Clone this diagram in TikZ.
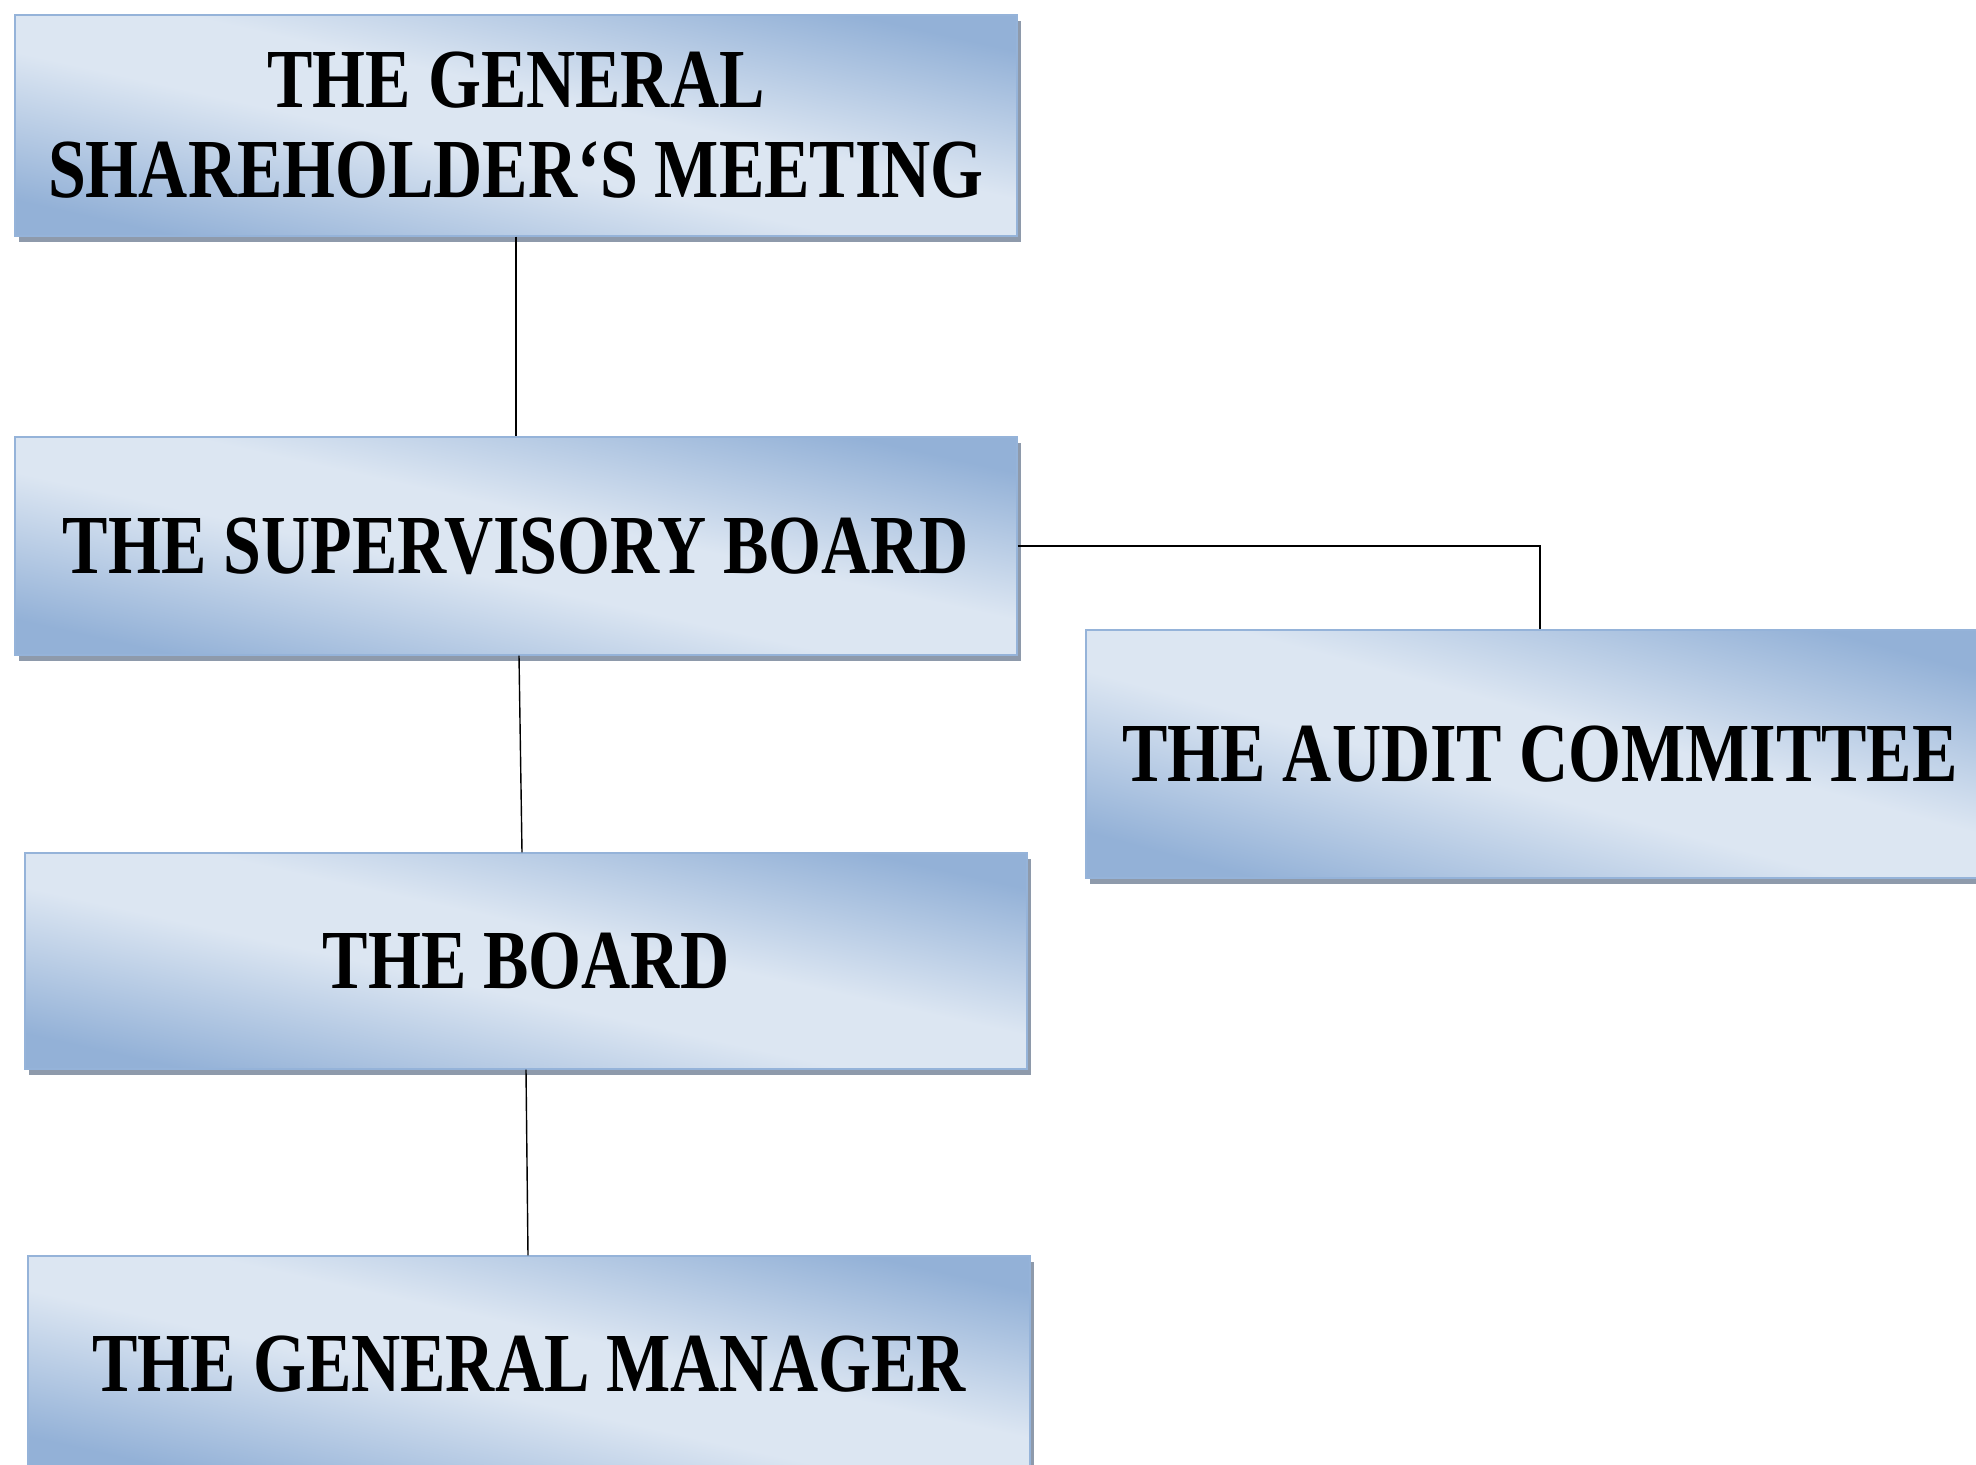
\documentclass[tikz,border=0pt]{standalone}
\usepackage{fontspec}
\newfontfamily\boxfont[FakeStretch=0.81]{Liberation Serif}
\usetikzlibrary{shadows,calc}
\definecolor{boxlt}{HTML}{DCE6F2}
\definecolor{boxdk}{HTML}{93B1D7}
\definecolor{boxedge}{HTML}{95B3D9}
\definecolor{boxshadow}{HTML}{8E9AAB}
\pgfdeclarehorizontalshading{diagshade}{100bp}{color(0bp)=(boxdk); color(25bp)=(boxdk); color(45bp)=(boxlt); color(55bp)=(boxlt); color(75bp)=(boxdk); color(100bp)=(boxdk)}
\tikzset{
  orgbox/.style={draw=boxedge, line width=0.6pt, shading=diagshade, shading angle=77.5,
    inner sep=0pt, align=center, text=black,
    font=\boxfont\bfseries\fontsize{42}{45}\selectfont,
    general shadow={fill=boxshadow, shadow xshift=2pt, shadow yshift=-3pt}},
  link/.style={draw=black, line width=0.7pt}
}
\begin{document}
\begin{tikzpicture}[x=0.5pt,y=-0.5pt]
\useasboundingbox (0,0) rectangle (1976,1465);
\node[orgbox, minimum width=501pt, minimum height=110.5pt] (gsm) at (516,125.5) {THE GENERAL\\SHAREHOLDER‘S MEETING};
\node[orgbox, minimum width=501pt, minimum height=109pt] (sb) at (516,546) {THE SUPERVISORY BOARD};
\node[orgbox, shading angle=74.7, minimum width=454pt, minimum height=124pt] (audit) at (1540,754) {THE AUDIT COMMITTEE};
\node[orgbox, minimum width=501pt, minimum height=108pt] (board) at (526,961) {THE BOARD};
\node[orgbox, minimum width=501pt, minimum height=108pt] (gm) at (529,1364) {THE GENERAL MANAGER};
\draw[link] (gsm.south) -- (sb.north);
\draw[link] ([xshift=1.5pt]sb.south) -- ([xshift=-2pt]board.north);
\draw[link] (board.south) -- ([xshift=-0.5pt]gm.north);
\draw[link] (sb.east) -| (audit.north);
\end{tikzpicture}
\end{document}
